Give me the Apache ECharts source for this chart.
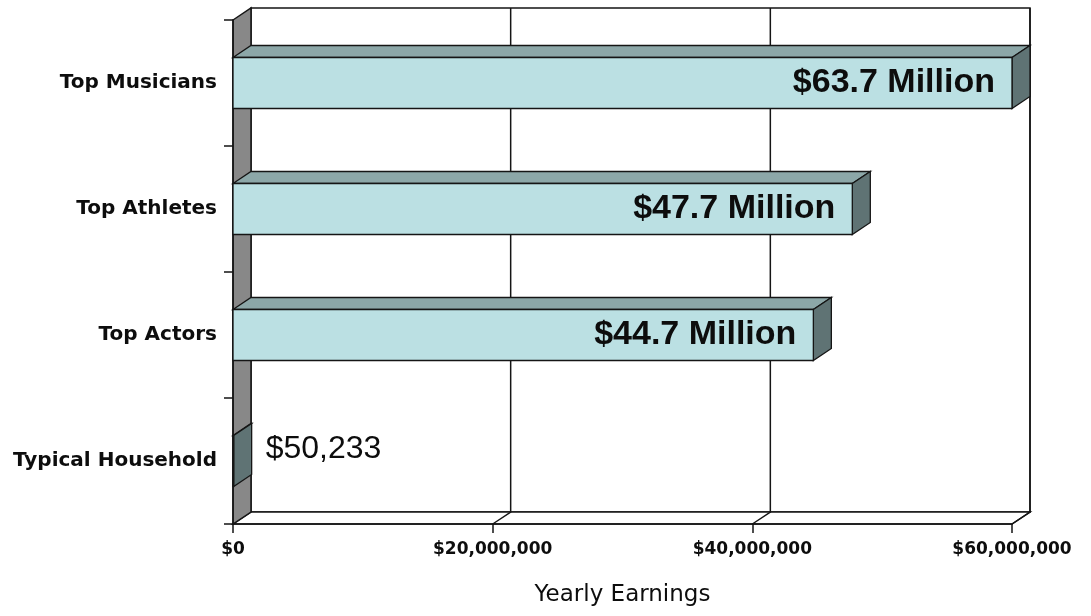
<!DOCTYPE html>
<html>
<head>
<meta charset="utf-8">
<script src="https://cdn.jsdelivr.net/npm/echarts@6/dist/echarts.min.js"></script>
<style>
  html, body { margin: 0; padding: 0; background: #fff; }
  #chart { width: 1091px; height: 616px; }
</style>
</head>
<body>
<div id="chart"></div>
<script>
// Earnings by group
const categories = ['Top Musicians', 'Top Athletes', 'Top Actors', 'Typical Household'];
const earnings = [63700000, 47700000, 44700000, 50233];
const valueLabels = ['$63.7 Million', '$47.7 Million', '$44.7 Million', '$50,233'];
const xTicks = [0, 20000000, 40000000, 60000000];
const axisName = 'Yearly Earnings';

const axisMin = xTicks[0];
const axisMax = xTicks[xTicks.length - 1];
const axisStep = xTicks[1] - xTicks[0];

// 3D look: how far the back plane sits from the front plane (pixels)
const DEPTH = [18, -12];
const COLORS = {
  front: '#bbe0e3',
  top: '#8ca7a8',
  side: '#5f7374',
  wall: '#888888',
  edge: '#151515'
};

function money(v) {
  return '$' + v.toLocaleString('en-US');
}

// Walls, floor and back gridlines of the box
function renderFrame(params, api) {
  const cs = params.coordSys;
  const dx = DEPTH[0], dy = DEPTH[1];
  const x0 = cs.x, y0 = cs.y, x1 = cs.x + cs.width, y1 = cs.y + cs.height;
  const edge = { stroke: COLORS.edge, lineWidth: 1.5 };
  const children = [
    {
      type: 'rect',
      shape: { x: x0 + dx, y: y0 + dy, width: cs.width, height: cs.height },
      style: Object.assign({ fill: '#fff' }, edge)
    },
    {
      type: 'polygon',
      shape: { points: [[x0, y1], [x0 + dx, y1 + dy], [x1 + dx, y1 + dy], [x1, y1]] },
      style: Object.assign({ fill: '#fff' }, edge)
    },
    {
      type: 'polygon',
      shape: { points: [[x0, y0], [x0 + dx, y0 + dy], [x0 + dx, y1 + dy], [x0, y1]] },
      style: Object.assign({ fill: COLORS.wall }, edge)
    }
  ];
  xTicks.forEach(function (v) {
    if (v === axisMin) return;
    const x = api.coord([v, 0])[0];
    children.push({
      type: 'polyline',
      shape: { points: [[x + dx, y0 + dy], [x + dx, y1 + dy], [x, y1]] },
      style: { stroke: COLORS.edge, lineWidth: 1.5, fill: null }
    });
  });
  return { type: 'group', children: children };
}

// One box-shaped bar per category; values past the axis end are cut at the axis
function renderBar(params, api) {
  const idx = api.value(0);
  const val = api.value(1);
  const dx = DEPTH[0], dy = DEPTH[1];
  const base = api.coord([axisMin, idx]);
  const end = api.coord([Math.min(val, axisMax), idx]);
  const bandH = api.size([0, 1])[1];
  const h = bandH * 0.405;
  const xa = base[0], xb = end[0];
  const yt = base[1] - h / 2, yb = base[1] + h / 2;
  const edge = { stroke: COLORS.edge, lineWidth: 1.3 };
  const small = (xb - xa) < 60;
  const label = valueLabels[params.dataIndex];
  return {
    type: 'group',
    children: [
      {
        type: 'polygon',
        shape: { points: [[xa, yt], [xa + dx, yt + dy], [xb + dx, yt + dy], [xb, yt]] },
        style: Object.assign({ fill: COLORS.top }, edge)
      },
      {
        type: 'polygon',
        shape: { points: [[xb, yt], [xb + dx, yt + dy], [xb + dx, yb + dy], [xb, yb]] },
        style: Object.assign({ fill: COLORS.side }, edge)
      },
      {
        type: 'rect',
        shape: { x: xa, y: yt, width: Math.max(xb - xa, 0), height: h },
        style: Object.assign({ fill: COLORS.front }, edge)
      },
      {
        type: 'text',
        x: small ? xb + dx + 14 : xb - 17,
        y: small ? base[1] + dy : base[1],
        style: {
          text: label,
          fill: '#0d0d0d',
          align: small ? 'left' : 'right',
          verticalAlign: 'middle',
          font: (small ? 'normal 32px' : 'bold 34px') + ' "Liberation Sans", Arial, sans-serif'
        }
      }
    ]
  };
}

const chart = echarts.init(document.getElementById('chart'), null, { renderer: 'canvas' });
chart.setOption({
  backgroundColor: '#ffffff',
  animation: false,
  grid: { left: 233, right: 79, top: 20, bottom: 92, containLabel: false },
  xAxis: {
    type: 'value',
    min: axisMin,
    max: axisMax,
    interval: axisStep,
    name: axisName,
    nameLocation: 'middle',
    nameGap: 60,
    nameTextStyle: { fontFamily: 'DejaVu Sans', fontSize: 23, color: '#0d0d0d' },
    axisLine: { show: true, lineStyle: { color: COLORS.edge, width: 1.5 } },
    axisTick: { show: true, length: 9, lineStyle: { color: COLORS.edge, width: 1.5 } },
    axisLabel: {
      formatter: money,
      margin: 17,
      fontFamily: 'DejaVu Sans',
      fontWeight: 'bold',
      fontSize: 17,
      color: '#0d0d0d'
    },
    splitLine: { show: false },
    z: 3
  },
  yAxis: {
    type: 'category',
    data: categories,
    inverse: true,
    axisLine: { show: true, lineStyle: { color: COLORS.edge, width: 1.5 } },
    axisTick: { show: true, length: 9, lineStyle: { color: COLORS.edge, width: 1.5 } },
    axisLabel: {
      margin: 16,
      fontFamily: 'DejaVu Sans',
      fontWeight: 'bold',
      fontSize: 20,
      color: '#0d0d0d'
    },
    splitLine: { show: false },
    z: 3
  },
  series: [
    {
      type: 'custom',
      name: 'frame',
      renderItem: renderFrame,
      data: [[0, 0]],
      encode: { x: 1, y: 0 },
      silent: true,
      clip: false,
      z: 1
    },
    {
      type: 'custom',
      name: 'earnings',
      renderItem: renderBar,
      data: earnings.map(function (v, i) { return [i, v]; }),
      encode: { y: 0, x: 1 },
      clip: false,
      z: 5
    }
  ]
});
</script>
</body>
</html>
